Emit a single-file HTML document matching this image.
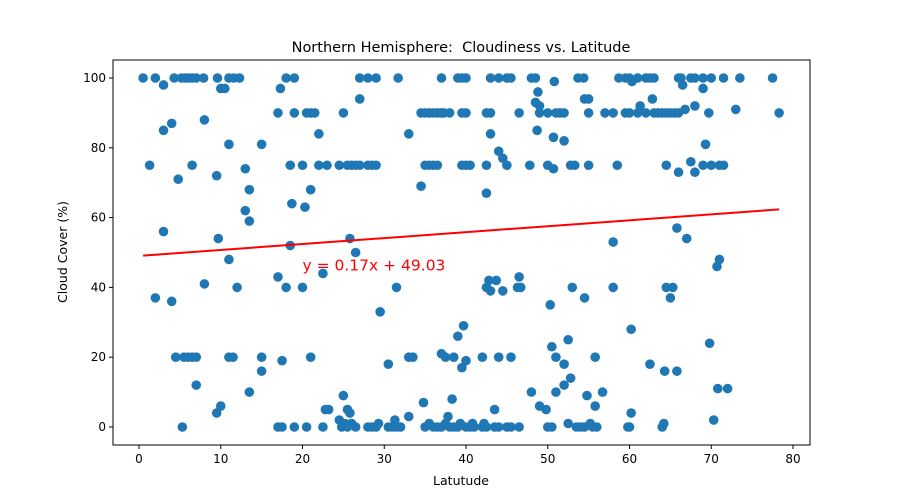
<!DOCTYPE html>
<html><head><meta charset="utf-8"><style>
body{margin:0;background:#fff;}
svg{display:block;font-family:"DejaVu Sans","Liberation Sans",sans-serif;}
</style></head><body>
<svg id="chart" width="900" height="500"></svg>
<script>
const lat100=[0.5,2,4.3,5.2,5.7,6,6.5,7,7.9,9.6,11,11.6,12.3,18,19,27,28,29,31.7,37,39,39.5,40,43,44,45,45.5,48,48.5,53.7,54.4,58.7,59.5,60,61,62,62.5,63,66,66.3,67.5,68,69,70,71.5,73.5,77.5];
const lat90=[17,19,20.5,21,21.5,25,34.5,35,35.5,36,36.5,37,37.3,38,39.5,40,42.5,43,46.5,49,50,51,51.5,52,55,57,58,59.5,60,61,62,63,63.5,64,64.5,65,65.5,66,69.7,78.3];
const lat75=[1.3,6.5,18.5,20,22,23,24.5,25.5,26,26.5,28,28.5,29,35,35.5,36,36.5,39.5,40,40.5,42.5,45,47.8,50,52.8,53.3,55,58.5,64.5,69,70,71,71.5];
const lat20=[4.5,5.5,6,6.5,7,11,11.5,15,21,33,33.5,37.5,38.5,42,44,45.5,51,55.8];
const lat0=[5.3,17,17.5,19,20.5,22.5,24.8,25.5,26.5,28,28.5,29,30.5,31,31.5,32,35,36,36.5,37,38,38.5,39,40,40.5,41,42,42.5,43.5,44,45,45.5,46.5,50,50.5,53.5,54,54.5,55.5,56,59.8,60,64];
const otherLat=[3,50.8,10,10.5,17.3,69,60.3,66.5,48.8,48.5,62.8,27,55,54.5,49,48.7,50.7,43,52,4,73,66.8,68,61.3,3,8,11,15,22,33,44,44.5,67.5,69.3,27,50.7,13,66,68,9.5,4.8,21,13.5,34.5,42.5,18.7,20.3,13,13.5,65.8,3,9.7,25.8,67,58,18.5,26.5,71,11,70.7,22.5,46.5,17,43.7,42.8,8,12,18,20,31.5,42.5,46.3,46.7,53,58,64.5,65.3,43,44.5,2,54.5,65,4,50.3,29.5,39.7,60.2,39,52.5,69.8,50.5,37,17.5,40,30.5,52,62.5,39.5,15,64.3,65.8,52.8,7,52,70.8,72,13.5,48,51,56.7,25,54.8,38.3,34.8,10,49,55.8,22.8,23.2,25.5,43.5,49.8,9.5,25.8,60.2,33,37.8,24.5,31.3,70.3,25.2,26,29.3,35.5,37.5,39.3,40.8,42.2,52.5,55.2,64.2];
const otherCloud=[98,99,97,97,97,97,99,98,96,93,94,94,94,94,92,85,83,84,82,87,91,91,92,92,85,88,81,81,84,84,79,77,76,81,75,74,74,73,73,72,71,68,68,69,67,64,63,62,59,57,56,54,54,54,53,52,50,48,48,46,44,43,43,42,42,41,40,40,40,40,40,40,40,40,40,40,40,39,39,37,37,37,36,35,33,29,28,26,25,24,23,21,19,19,18,18,18,17,16,16,16,14,12,12,11,11,10,10,10,10,9,9,8,7,6,6,6,5,5,5,5,5,4,4,4,3,3,2,2,2,1,1,1,1,1,1,1,1,1,1,1];
const slope=[0.17], intercept=[49.03];
const xTicks=[0,10,20,30,40,50,60,70,80], yTicks=[0,20,40,60,80,100];

const NS='http://www.w3.org/2000/svg', svg=document.getElementById('chart');
const L=113,R=810,T=60,B=445;
const xs=v=>139+v*(793-139)/80, ys=v=>427-v*(427-78)/100;
function mk(t,a,p){const e=document.createElementNS(NS,t);for(const k in a)e.setAttribute(k,a[k]);(p||svg).appendChild(e);return e;}
const pts=[];
lat100.forEach(x=>pts.push([x,100]));lat90.forEach(x=>pts.push([x,90]));lat75.forEach(x=>pts.push([x,75]));
lat20.forEach(x=>pts.push([x,20]));lat0.forEach(x=>pts.push([x,0]));otherLat.forEach((x,i)=>pts.push([x,otherCloud[i]]));
const g=mk('g',{});


pts.forEach(p=>{const c=mk('circle',{cx:xs(p[0]),cy:ys(p[1]),r:4.8,fill:'#1f77b4'},g);

});
const x0=0.5,x1=78.3;
const ln=mk('line',{x1:xs(x0),y1:ys(slope[0]*x0+intercept[0]),x2:xs(x1),y2:ys(slope[0]*x1+intercept[0]),stroke:'#ff0000','stroke-width':2});


const fr=mk('rect',{x:L,y:T,width:R-L,height:B-T,fill:'none',stroke:'#000','stroke-width':1});


xTicks.forEach(v=>{mk('line',{x1:xs(v),x2:xs(v),y1:B,y2:B+4,stroke:'#000'});
const t=mk('text',{x:xs(v),y:B+18,'text-anchor':'middle','font-size':12,fill:'#000'});t.textContent=v;

});
yTicks.forEach(v=>{mk('line',{x1:L-4,x2:L,y1:ys(v),y2:ys(v),stroke:'#000'});
const t=mk('text',{x:L-7,y:ys(v)+4,'text-anchor':'end','font-size':12,fill:'#000'});t.textContent=v;

});
const ti=mk('text',{x:461,y:52,'text-anchor':'middle','font-size':14.5,fill:'#000'});ti.textContent='Northern Hemisphere:  Cloudiness vs. Latitude';ti.style.whiteSpace='pre';


const xl=mk('text',{x:461,y:485,'text-anchor':'middle','font-size':12.5,fill:'#000'});xl.textContent='Latutude';


const yl=mk('text',{x:0,y:0,'text-anchor':'middle','font-size':12.5,fill:'#000',transform:'translate(67,252) rotate(-90)'});yl.textContent='Cloud Cover (%)';


const an=mk('text',{x:xs(20),y:ys(45)+0.5,'font-size':15.5,fill:'#ff0000'});an.textContent='y = 0.17x + 49.03';


</script>
</body></html>
